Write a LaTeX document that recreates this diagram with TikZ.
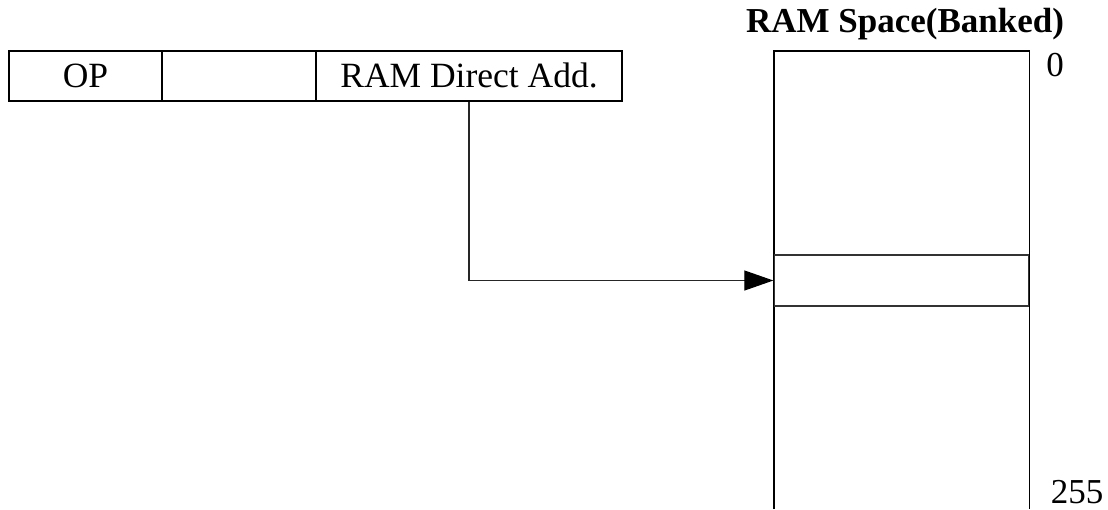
\documentclass[tikz,border=0pt]{standalone}
\usepackage{fontspec}
\setmainfont{Liberation Serif}
\usetikzlibrary{arrows.meta}
\begin{document}
\begin{tikzpicture}[x=1pt,y=-1pt,
  field/.style={draw=black,line width=1.1pt,rectangle,inner sep=0pt,minimum height=50pt,
    text height=23.2pt,text depth=0pt,font=\fontsize{35.5}{42}\selectfont},
  lbl/.style={inner sep=0pt,anchor=base,font=\fontsize{35}{42}\selectfont},
  conn/.style={draw=black!85,line width=1.1pt},
  tip/.style={-{Triangle[length=29pt,width=20pt,fill=black,color=black]}}
]
\useasboundingbox (0,0) rectangle (1108,509);
% instruction word
\node[field,minimum width=153pt] (op) at (85.5,76) {OP};
\node[field,minimum width=154pt] (mid) at (239,76) {};
\node[field,minimum width=306pt] (addr) at (469,76) {RAM Direct Add.};
% RAM space
\node[inner sep=0pt,minimum width=255pt,minimum height=458pt] (ram) at (901.5,280) {};
\draw[line width=1.4pt] (ram.south west) -- (ram.north west) -- (ram.north east) -- (ram.south east);
\node[draw=black!80,line width=1.3pt,inner sep=0pt,minimum width=255pt,minimum height=51pt] (slot) at (901.5,280.5) {};
\draw[line width=1.4pt] (slot.north west) -- (slot.south west) (slot.north east) -- (slot.south east);
\node[lbl,font=\fontsize{35}{42}\selectfont\bfseries] (title) at (905,32) {RAM Space(Banked)};
\node[lbl] (zero) at (1055,76) {0};
\node[lbl] (last) at (1077,503) {255};
% connector
\draw[conn,tip] (addr.south) |- (slot.west);
\end{tikzpicture}
\end{document}
